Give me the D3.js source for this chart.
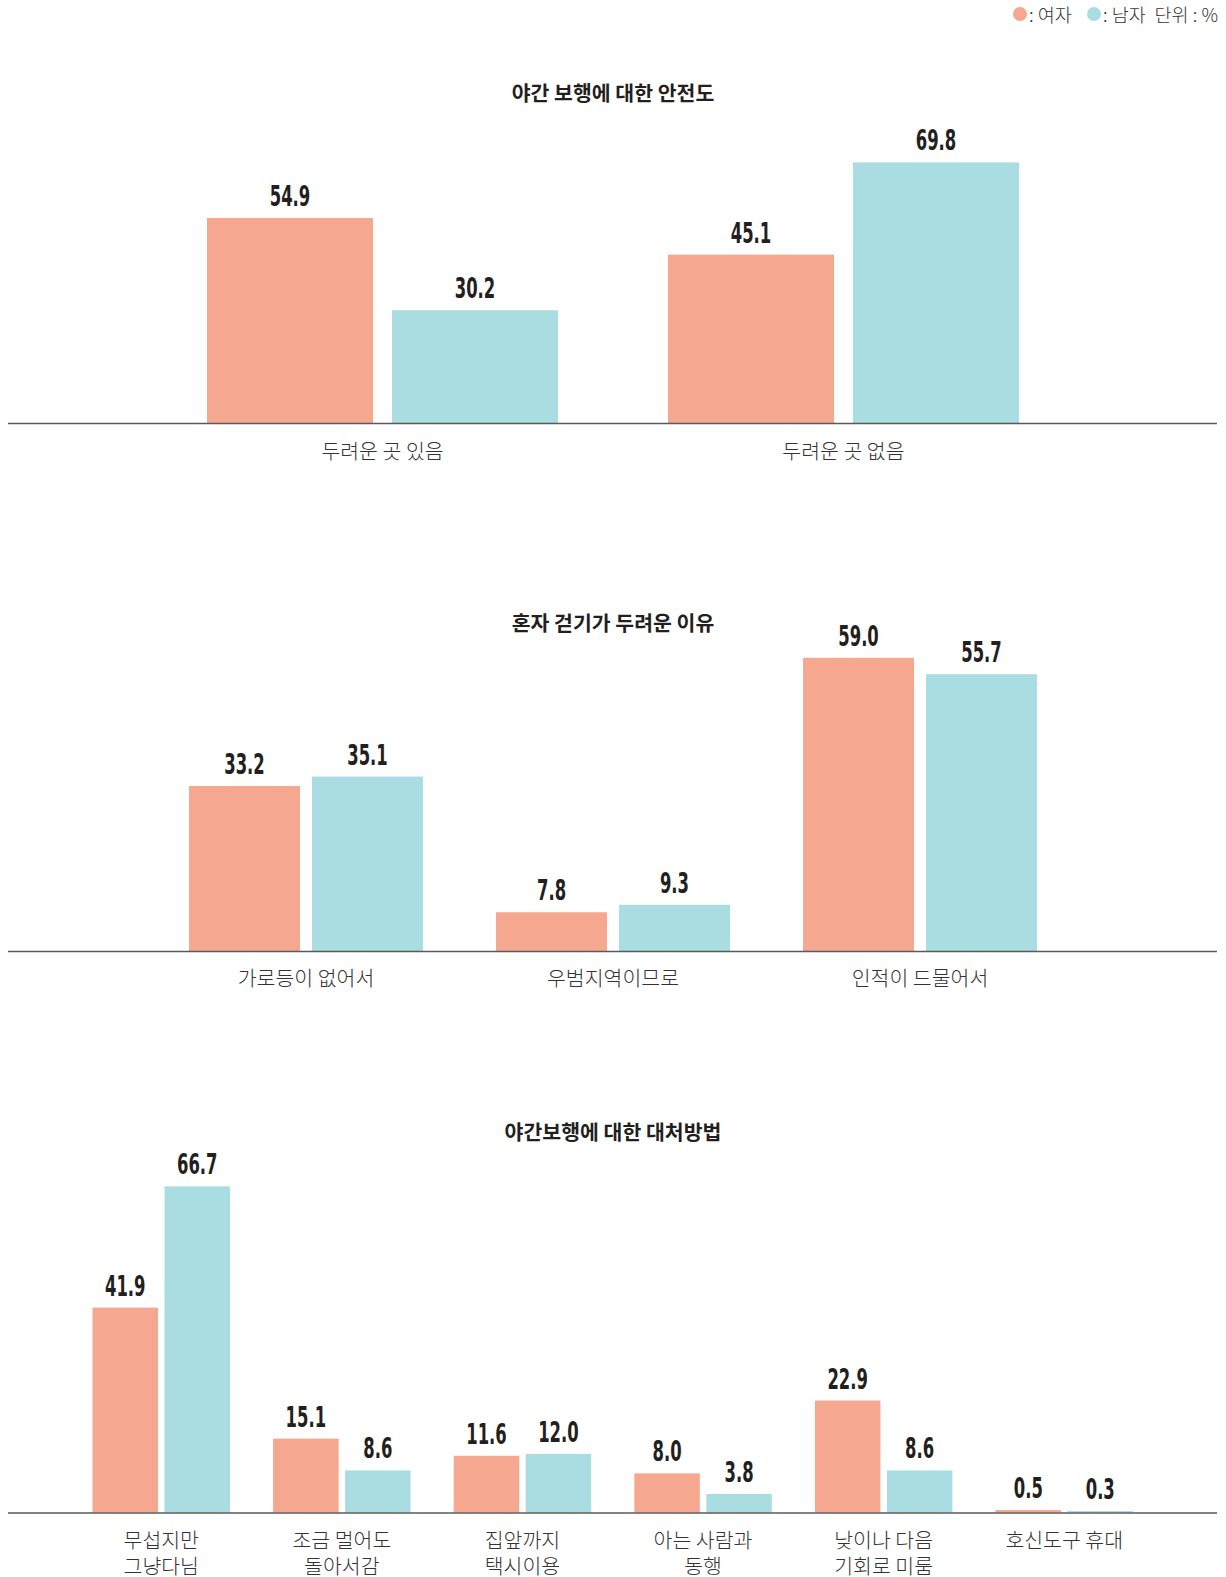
<!DOCTYPE html>
<html>
<head>
<meta charset="utf-8">
<script src="https://cdn.jsdelivr.net/npm/d3@7"></script>
<style>
  html, body { margin: 0; padding: 0; background: #fff; }
  svg { display: block; }
  .num { font-family: "Liberation Sans Narrow", "DejaVu Sans Condensed", "Liberation Sans", sans-serif; font-weight: bold; fill: #231f20; }
  .kr { font-family: "Noto Sans CJK KR", "Noto Sans", sans-serif; }
</style>
</head>
<body>
<svg id="chart" width="1226" height="1577"></svg>
<script>
// ---- data ----
const series = ["여자", "남자"];
const seriesColors = ["#f6a790", "#aadde2"];

const title1 = "야간 보행에 대한 안전도";
const categories1 = ["두려운 곳 있음", "두려운 곳 없음"];
const female1 = [54.9, 45.1];
const male1 = [30.2, 69.8];

const title2 = "혼자 걷기가 두려운 이유";
const categories2 = ["가로등이 없어서", "우범지역이므로", "인적이 드물어서"];
const female2 = [33.2, 7.8, 59.0];
const male2 = [35.1, 9.3, 55.7];

const title3 = "야간보행에 대한 대처방법";
const categories3 = ["무섭지만\n그냥다님", "조금 멀어도\n돌아서감", "집앞까지\n택시이용", "아는 사람과\n동행", "낮이나 다음\n기회로 미룸", "호신도구 휴대"];
const female3 = [41.9, 15.1, 11.6, 8.0, 22.9, 0.5];
const male3 = [66.7, 8.6, 12.0, 3.8, 8.6, 0.3];

const legendUnit = "단위 : %";

// ---- drawing ----
const svg = d3.select("#chart");

// legend
const legend = svg.append("g");
const legendItems = [
  { cx: 1020, tx: 1029, label: ": " + series[0], color: seriesColors[0] },
  { cx: 1094, tx: 1103, label: ": " + series[1], color: seriesColors[1] }
];
legendItems.forEach(d => {
  legend.append("circle").attr("cx", d.cx).attr("cy", 14).attr("r", 7).attr("fill", d.color);
  legend.append("text").attr("class", "kr").attr("x", d.tx).attr("y", 14)
    .attr("dominant-baseline", "central").attr("font-size", 18.5).attr("font-weight", 300).attr("fill", "#333")
    .attr("xml:space", "preserve")
    .text(d.label);
});
legend.append("text").attr("class", "kr").attr("x", 1218).attr("y", 14)
  .attr("text-anchor", "end").attr("dominant-baseline", "central")
  .attr("font-size", 18.5).attr("font-weight", 300).attr("fill", "#333").text(legendUnit);

function drawChart(cfg) {
  const g = svg.append("g");
  const data = cfg.categories.map((c, i) => ({ cat: c, values: [cfg.female[i], cfg.male[i]] }));

  const x0 = d3.scaleBand().domain(cfg.categories)
    .range(cfg.xRange).paddingInner(cfg.padOuter).paddingOuter(0);
  const x1 = d3.scaleBand().domain(series)
    .range([0, x0.bandwidth()]).paddingInner(cfg.padInner).paddingOuter(0);
  const y = d3.scaleLinear().domain([0, 100])
    .range([cfg.baseline, cfg.baseline - 100 * cfg.pxPerUnit]);

  // title
  g.append("text").attr("class", "kr").attr("x", 613).attr("y", cfg.titleY)
    .attr("text-anchor", "middle").attr("dominant-baseline", "central")
    .attr("font-size", 20.5).attr("font-weight", "bold").attr("fill", "#231f20")
    .text(cfg.title);

  const groups = g.selectAll("g.grp").data(data).join("g")
    .attr("class", "grp")
    .attr("transform", d => `translate(${x0(d.cat)},0)`);

  const bars = groups.selectAll("g.bar").data(d => d.values.map((v, i) => ({ s: series[i], v, i })))
    .join("g").attr("class", "bar");

  bars.append("rect")
    .attr("x", d => x1(d.s))
    .attr("width", x1.bandwidth())
    .attr("y", d => y(d.v))
    .attr("height", d => y(0) - y(d.v))
    .attr("fill", d => seriesColors[d.i]);

  bars.append("text").attr("class", "num")
    .attr("transform", d => `translate(${x1(d.s) + x1.bandwidth() / 2},${y(d.v) - 12}) scale(0.63,1)`)
    .attr("text-anchor", "middle")
    .attr("font-size", 29)
    .text(d => d.v.toFixed(1));

  // axis baseline
  const axis = d3.axisBottom(x0).tickSize(0).tickFormat("");
  const ax = g.append("g").attr("transform", `translate(0,${cfg.baseline})`).call(axis);
  ax.select(".domain").remove();
  g.append("line").attr("x1", 8).attr("x2", 1217)
    .attr("y1", cfg.baseline + 0.5).attr("y2", cfg.baseline + 0.5)
    .attr("stroke", "#5a5a5a").attr("stroke-width", 1.6);

  // category labels
  groups.each(function(d) {
    const lines = d.cat.split("\n");
    const t = d3.select(this).append("text").attr("class", "kr")
      .attr("text-anchor", "middle").attr("font-size", cfg.labelSize)
      .attr("font-weight", 300).attr("fill", "#333");
    lines.forEach((ln, k) => {
      t.append("tspan").attr("x", x0.bandwidth() / 2)
        .attr("y", cfg.labelY + k * 26)
        .attr("dominant-baseline", "central")
        .text(ln);
    });
  });
}

drawChart({
  title: title1, titleY: 92, categories: categories1, female: female1, male: male1,
  xRange: [207, 1019], padOuter: 0.2386, padInner: 0.1027,
  baseline: 423, pxPerUnit: 3.734, labelY: 450, labelSize: 20.5
});
drawChart({
  title: title2, titleY: 622, categories: categories2, female: female2, male: male2,
  xRange: [189, 1037], padOuter: 0.238, padInner: 0.0976,
  baseline: 951, pxPerUnit: 4.97, labelY: 977, labelSize: 20.5
});
drawChart({
  title: title3, titleY: 1131, categories: categories3, female: female3, male: male3,
  xRange: [92.5, 1133], padOuter: 0.2387, padInner: 0.09,
  baseline: 1512.5, pxPerUnit: 4.89, labelY: 1539, labelSize: 20.5
});
</script>
</body>
</html>
